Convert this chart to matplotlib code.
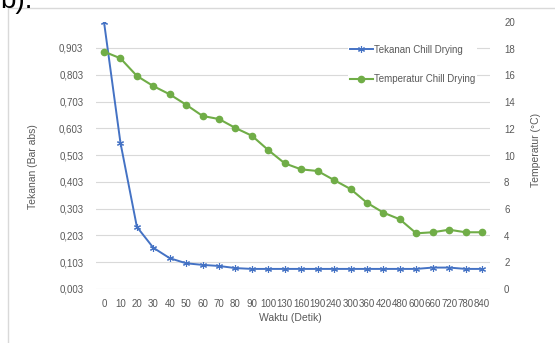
#!/usr/bin/env python3
"""Tekanan dan temperatur chill drying terhadap waktu."""

import matplotlib
matplotlib.use('Agg')
import matplotlib.pyplot as plt
from matplotlib.patches import Rectangle

# data
waktu = [0, 10, 20, 30, 40, 50, 60, 70, 80, 90, 100, 130, 160, 190,
         240, 300, 360, 420, 480, 600, 660, 720, 780, 840]
tekanan = [1.0, 0.549, 0.235, 0.157, 0.118, 0.099, 0.093, 0.089, 0.081,
           0.078, 0.078, 0.078, 0.078, 0.078, 0.078, 0.078, 0.078, 0.078,
           0.078, 0.078, 0.083, 0.083, 0.078, 0.078]
temperatur = [17.78, 17.28, 15.96, 15.2, 14.58, 13.8, 12.96, 12.73, 12.06,
              11.48, 10.4, 9.41, 8.96, 8.84, 8.16, 7.49, 6.46, 5.72, 5.22,
              4.17, 4.25, 4.44, 4.25, 4.25]
tick_kiri = [0.003, 0.103, 0.203, 0.303, 0.403, 0.503, 0.603, 0.703, 0.803, 0.903]
tick_kanan = [0, 2, 4, 6, 8, 10, 12, 14, 16, 18, 20]

BLUE = '#4472C4'
GREEN = '#70AD47'
GRAY = '#595959'
GRID = '#D9D9D9'

plt.rcParams['font.family'] = ['Liberation Sans', 'DejaVu Sans']

W, H = 555, 343
fig = plt.figure(figsize=(W / 100, H / 100), dpi=100)
ax = fig.add_axes([95.8 / W, 1 - 289 / H, (490.2 - 95.8) / W, (289 - 22) / H])
ax2 = ax.twinx()

x = list(range(len(waktu)))
ax.plot(x, tekanan, color=BLUE, lw=1.4, marker=(6, 2, 0), ms=5,
        mec=BLUE, mew=0.8, label='Tekanan Chill Drying', zorder=3)
ax2.plot(x, temperatur, color=GREEN, lw=1.5, marker='o', ms=4.5,
         mec=GREEN, mfc=GREEN, label='Temperatur Chill Drying', zorder=3)

ax.set_xlim(-0.5, len(waktu) - 0.5)
ax.set_ylim(0.003, 1.0)
ax2.set_ylim(0, 20)

ax.set_xticks(x)
ax.set_xticklabels([str(w) for w in waktu])
ax.set_yticks(tick_kiri)
ax.set_yticklabels([f'{t:.3f}'.replace('.', ',') for t in tick_kiri])
ax2.set_yticks(tick_kanan)
ax2.set_yticklabels([str(t) for t in tick_kanan])

for a in (ax, ax2):
    for s in a.spines.values():
        s.set_visible(False)
    a.tick_params(length=0, labelsize=7, colors=GRAY)
ax.tick_params(axis='x', pad=7)
ax.tick_params(axis='y', pad=9)
ax2.tick_params(axis='y', pad=10)

ax.set_axisbelow(True)
ax.yaxis.grid(True, color=GRID, lw=0.8)

fig.text(33 / W, 1 - 167 / H, 'Tekanan (Bar abs)', rotation=90,
         ha='center', va='center', fontsize=7.5, color=GRAY)
fig.text(536 / W, 1 - 150 / H, 'Temperatur (°C)', rotation=90,
         ha='center', va='center', fontsize=7.5, color=GRAY)
fig.text(290 / W, 1 - 318 / H, 'Waktu (Detik)',
         ha='center', va='center', fontsize=7.5, color=GRAY)

h1, l1 = ax.get_legend_handles_labels()
h2, l2 = ax2.get_legend_handles_labels()
leg = ax2.legend(h1 + h2, l1 + l2, loc='upper left',
                 bbox_to_anchor=(343 / W, 1 - 38 / H),
                 bbox_transform=fig.transFigure, fontsize=7,
                 frameon=True, facecolor='white', edgecolor='none',
                 framealpha=1, fancybox=False, labelspacing=2.0,
                 handlelength=2.4, handletextpad=0.1, borderpad=0.2)
for t in leg.get_texts():
    t.set_color(GRAY)

# rand grafik dan label sub-gambar yang terpotong
fig.patches.append(Rectangle((8 / W, -0.1), 1.2, 1.1 - 8 / H, fill=False,
                             edgecolor=GRID, lw=1.0,
                             transform=fig.transFigure, figure=fig))
fig.text(0.0, 1 - 8 / H, 'b).', va='baseline', ha='left', fontsize=20,
         color='black')

fig.savefig('out.png', dpi=100)
